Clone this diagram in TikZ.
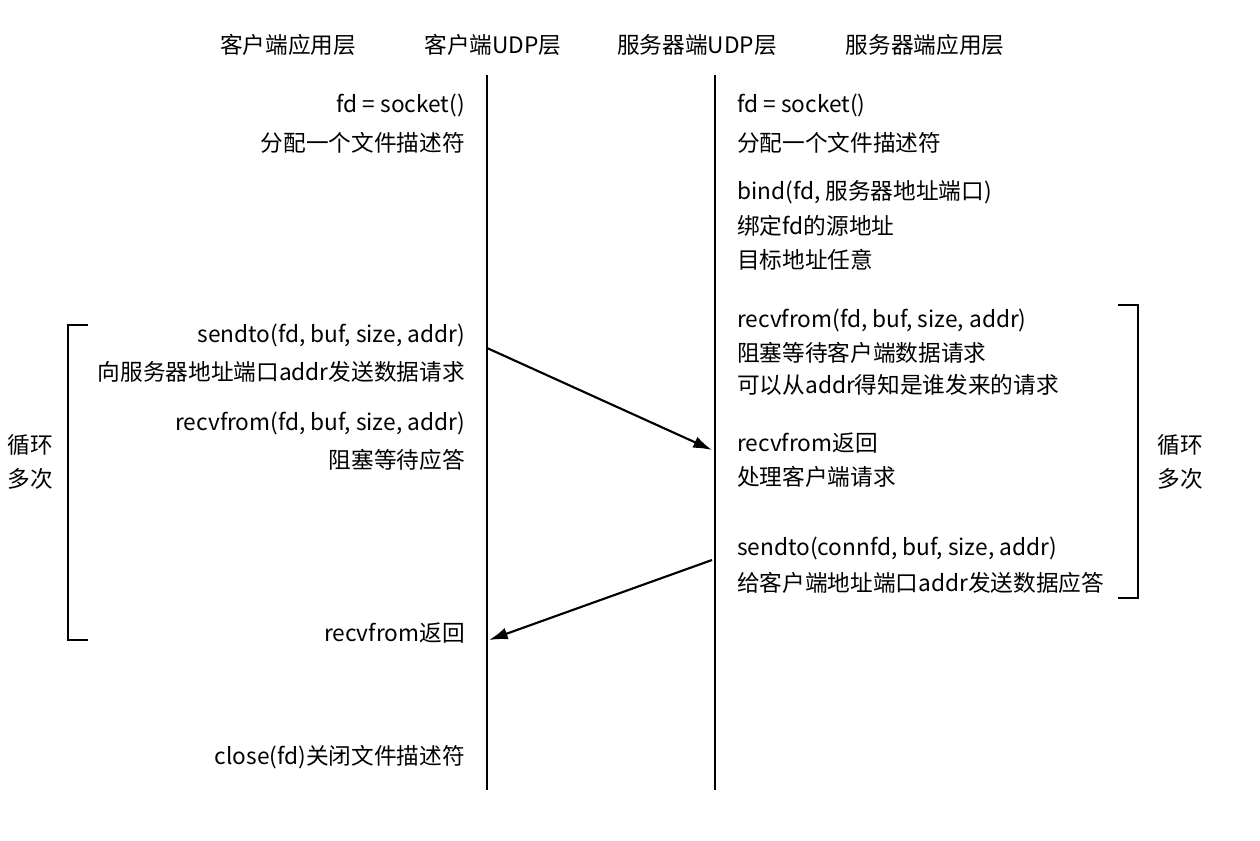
\documentclass[tikz,border=0pt]{standalone}
\usepackage{fontspec}
\setmainfont{Noto Sans CJK SC}
\begin{document}
\begin{tikzpicture}[x=0.75pt,y=-0.75pt,
  t/.style={font=\fontsize{17}{20}\selectfont,inner sep=0pt},
  L/.style={t,anchor=east},
  R/.style={t,anchor=west},
  ln/.style={line width=1.6pt},
  ar/.style={line width=1.6pt,-{Latex[length=14pt,width=9pt]}}]
\usetikzlibrary{arrows.meta}
\useasboundingbox (0,0) rectangle (1260,840);
\node[t] (h1) at (288,45) {客户端应用层};
\node[t] (h2) at (493,45) {客户端UDP层};
\node[t] (h3) at (697,45) {服务器端UDP层};
\node[t] (h4) at (925,45) {服务器端应用层};
\coordinate (a1) at (487,75); \coordinate (a2) at (487,790);
\coordinate (b1) at (715,75); \coordinate (b2) at (715,790);
\draw[ln] (a1)--(a2); \draw[ln] (b1)--(b2);
\node[L] (l1) at (465,105) {fd = socket()};
\node[L] (l2) at (465,143) {分配一个文件描述符};
\node[L] (l3) at (465,335) {sendto(fd, buf, size, addr)};
\node[L] (l4) at (465,372) {向服务器地址端口addr发送数据请求};
\node[L] (l5) at (465,423) {recvfrom(fd, buf, size, addr)};
\node[L] (l6) at (465,460) {阻塞等待应答};
\node[L] (l7) at (465,633) {recvfrom返回};
\node[L] (l8) at (465,757) {close(fd)关闭文件描述符};
\node[R] (r1) at (737,105) {fd = socket()};
\node[R] (r2) at (737,143) {分配一个文件描述符};
\node[R] (r3) at (737,192) {bind(fd, 服务器地址端口)};
\node[R] (r4) at (737,226) {绑定fd的源地址};
\node[R] (r5) at (737,260) {目标地址任意};
\node[R] (r6) at (737,320) {recvfrom(fd, buf, size, addr)};
\node[R] (r7) at (737,353) {阻塞等待客户端数据请求};
\node[R] (r8) at (737,385) {可以从addr得知是谁发来的请求};
\node[R] (r9) at (737,443) {recvfrom返回};
\node[R] (r10) at (737,477) {处理客户端请求};
\node[R] (r11) at (737,548) {sendto(connfd, buf, size, addr)};
\node[R] (r12) at (737,583) {给客户端地址端口addr发送数据应答};
\coordinate (s1) at (487,348); \coordinate (e1) at (712,450);
\coordinate (s2) at (712,560); \coordinate (e2) at (489,640);
\draw[ar] (s1)--(e1);
\draw[ar] (s2)--(e2);
\draw[ln] (88,325)--(68,325)--(68,640)--(88,640);
\draw[ln] (1118,305)--(1138,305)--(1138,598)--(1118,598);
\node[t,align=center] (lp1) at (30,462) {循环\\[6pt]多次};
\node[t,align=center] (lp2) at (1180,462) {循环\\[6pt]多次};
\end{tikzpicture}
\end{document}
